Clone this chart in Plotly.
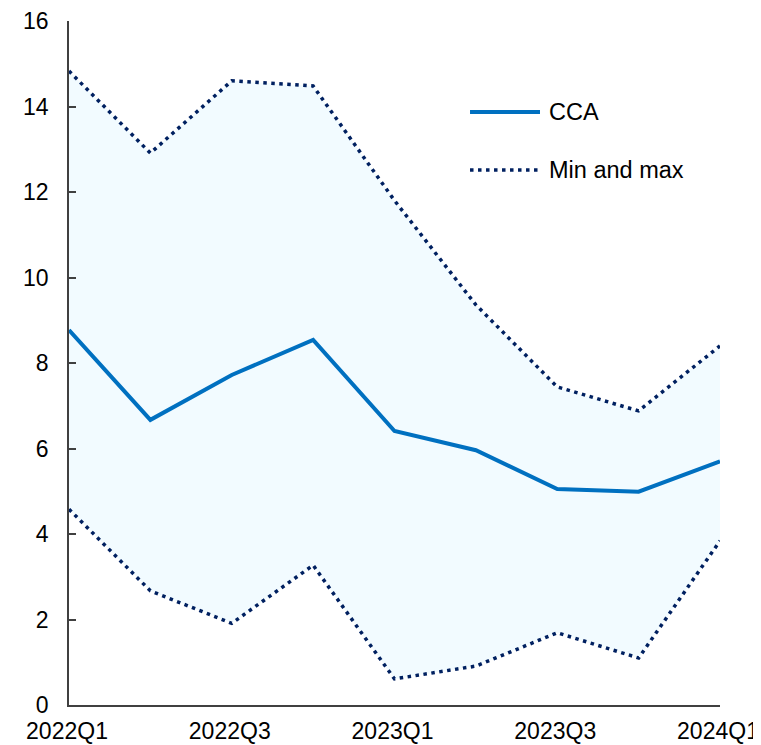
import plotly.graph_objects as go

quarters = ["2022Q1", "2022Q2", "2022Q3", "2022Q4", "2023Q1", "2023Q2", "2023Q3", "2023Q4", "2024Q1"]
cca = [8.77, 6.67, 7.72, 8.54, 6.41, 5.96, 5.05, 4.99, 5.70]
max_vals = [14.83, 12.91, 14.60, 14.48, 11.80, 9.36, 7.44, 6.88, 8.40]
min_vals = [4.58, 2.67, 1.91, 3.27, 0.61, 0.91, 1.69, 1.10, 3.84]
tick_labels = ["2022Q1", "2022Q3", "2023Q1", "2023Q3", "2024Q1"]
y_ticks = [0, 2, 4, 6, 8, 10, 12, 14, 16]

FONT = "Liberation Sans, Arial, sans-serif"
DOT = "#002060"
BLUE = "#0070C0"
FILL = "rgb(242,251,255)"
DASH = "3.5px,4.5px"
FS = 23

fig = go.Figure()
fig.add_trace(go.Scatter(x=quarters, y=min_vals, mode="lines",
                         line=dict(color=DOT, width=3.5, dash=DASH), showlegend=False))
fig.add_trace(go.Scatter(x=quarters, y=max_vals, mode="lines", fill="tonexty", fillcolor=FILL,
                         line=dict(color=DOT, width=3.5, dash=DASH), showlegend=False))
fig.add_trace(go.Scatter(x=quarters, y=cca, mode="lines",
                         line=dict(color=BLUE, width=4), showlegend=False))

# custom legend
fig.add_shape(type="line", xref="paper", yref="paper", x0=0.616, x1=0.7235, y0=0.867, y1=0.867,
              line=dict(color=BLUE, width=4))
fig.add_shape(type="line", xref="paper", yref="paper", x0=0.616, x1=0.7235, y0=0.782, y1=0.782,
              line=dict(color=DOT, width=3.5, dash=DASH))
fig.add_annotation(text="CCA", xref="paper", yref="paper", x=0.734, y=0.867, xanchor="left",
                   yanchor="middle", showarrow=False, font=dict(size=23.5, color="black", family=FONT))
fig.add_annotation(text="Min and max", xref="paper", yref="paper", x=0.734, y=0.782, xanchor="left",
                   yanchor="middle", showarrow=False, font=dict(size=23.5, color="black", family=FONT))

fig.update_layout(
    width=753, height=737,
    margin=dict(l=61, r=41, t=13, b=40, autoexpand=False),
    paper_bgcolor="white", plot_bgcolor="white",
    font=dict(family=FONT, size=FS, color="black"),
    xaxis=dict(type="category", categoryorder="array", categoryarray=quarters,
               tickvals=tick_labels, ticktext=tick_labels, range=[0, 8], automargin=False,
               showgrid=False, zeroline=False, showline=True, linecolor="#404040", linewidth=1.5,
               ticks="", ticklabelstandoff=5, ticklabelshift=-2),
    yaxis=dict(range=[0, 16], tickvals=y_ticks, showgrid=False, zeroline=False, automargin=False,
               showline=True, linecolor="#404040", linewidth=1.5,
               ticks="inside", ticklen=7, tickcolor="#404040", tickwidth=1.5,
               ticklabelstandoff=14),
)

fig.write_html("out.html")
